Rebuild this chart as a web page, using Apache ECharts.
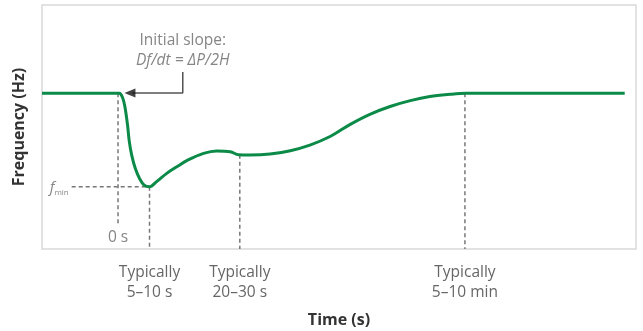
<!DOCTYPE html>
<html><head><meta charset="utf-8">
<script src="https://cdn.jsdelivr.net/npm/echarts@6/dist/echarts.min.js"></script>
<style>html,body{margin:0;padding:0;background:#fff}#c{width:643px;height:331px}</style>
</head><body><div id="c"></div>
<script>
// Frequency response curve (arbitrary time units on x, arbitrary frequency units on y)
const curveX = [0, 11.5, 13.0, 13.6, 14.0, 14.4, 14.7, 15.1, 15.7, 16.4, 17.2, 18.1, 19.3, 21.0, 22.7, 24.6, 27.2, 29.4, 31.7, 33.1, 35.0, 38.4, 41.8, 45.1, 48.5, 51.9, 55.2, 58.6, 62.0, 65.3, 68.7, 71.4, 73.0, 98.1];
const curveY = [63.8, 63.8, 63.8, 61.8, 57.7, 50.8, 44.0, 38.5, 33.1, 29.0, 26.2, 25.5, 27.6, 31.0, 33.7, 36.5, 39.2, 40.2, 39.9, 38.6, 38.5, 38.9, 40.3, 42.6, 46.1, 51.1, 55.2, 58.4, 60.8, 62.5, 63.4, 63.8, 63.8, 63.8];

// Event markers (x positions) and their tick labels
const eventX = [18.1, 33.3, 71.2];
const eventTop = [25.5, 38.6, 63.8];
const eventLabels = ['Typically\n5–10 s', 'Typically\n20–30 s', 'Typically\n5–10 min'];

// Disturbance start (0 s) and f_min
const startX = 12.8, startTop = 63.8, startBottom = 10.2;
const fminY = 25.5, fminFromX = 5.0;
const zeroLabel = { x: 12.8, y: 4.5, text: '0 s' };
const fminLabel = { x: 2.9, y: 25.3 };

// Initial slope annotation
const slopeText = { x: 23.7, y1: 85.5, y2: 77.3 };
const arrowPath = { x: 23.7, yTop: 72.5, yLine: 63.9, xTip: 14.0 };

const chart = echarts.init(document.getElementById('c'));
const font = '"Open Sans", Lato, sans-serif';
const dash = { color: '#777', type: [4, 3], width: 1.5 };

const curve = curveX.map((x, i) => [x, curveY[i]]);
const vlines = [];
vlines.push({ name: 'start', data: [[startX, startTop], [startX, startBottom]] });
eventX.forEach((x, i) => vlines.push({ name: 'ev' + i, data: [[x, eventTop[i]], [x, 0]] }));
vlines.push({ name: 'fmin', data: [[fminFromX, fminY], [eventX[0], fminY]] });

const series = vlines.map(v => ({
  type: 'line', data: v.data, symbol: 'none', silent: true,
  lineStyle: dash, z: 1
}));

series.push({
  type: 'line', data: curve, symbol: 'none', smooth: 0.35,
  lineStyle: { color: '#0b8a48', width: 3 }, z: 5
});

// arrow
series.push({
  type: 'line', data: [[arrowPath.x, arrowPath.yTop], [arrowPath.x, arrowPath.yLine], [arrowPath.xTip + 1.2, arrowPath.yLine]],
  symbol: 'none', lineStyle: { color: '#555', width: 1.5 }, z: 6
});
series.push({
  type: 'scatter', data: [[arrowPath.xTip + 0.8, arrowPath.yLine]], symbol: 'triangle', symbolRotate: 90,
  symbolSize: [9, 11], itemStyle: { color: '#111' }, z: 7, silent: true
});

// text labels
series.push({
  type: 'scatter', symbolSize: 0, silent: true, z: 8,
  data: [
    { value: [slopeText.x, slopeText.y1], label: { formatter: 'Initial slope:', fontStyle: 'normal' } },
    { value: [slopeText.x, slopeText.y2], label: { formatter: 'Df/dt = ΔP/2H', fontStyle: 'italic' } },
    { value: [zeroLabel.x, zeroLabel.y], label: { formatter: zeroLabel.text } },
    { value: [fminLabel.x, fminLabel.y], label: { formatter: '{f|f}{s|min}' } }
  ],
  label: {
    show: true, position: 'inside', color: '#666', fontSize: 15.5, fontFamily: font,
    rich: {
      f: { fontSize: 15, fontStyle: 'italic', color: '#666', fontFamily: font },
      s: { fontSize: 8, color: '#666', fontFamily: font, padding: [10, 0, 0, 0] }
    }
  }
});

chart.setOption({
  animation: false,
  grid: { left: 42, right: 7, top: 5, bottom: 82, show: true, borderColor: '#d9d9d9', borderWidth: 1.5, outerBoundsMode: 'none', containLabel: false },
  xAxis: {
    type: 'value', min: 0, max: 100,
    axisLine: { show: false }, axisTick: { show: false }, splitLine: { show: false },
    axisLabel: {
      customValues: eventX,
      formatter: v => { let k = 0, d = 1e9; eventX.forEach((x, i) => { if (Math.abs(x - v) < d) { d = Math.abs(x - v); k = i; } }); return eventLabels[k]; },
      color: '#666', fontSize: 15.5, lineHeight: 20, fontFamily: font, margin: 14
    },
    name: 'Time (s)', nameLocation: 'middle', nameGap: 63,
    nameTextStyle: { fontWeight: 'bold', fontSize: 16, color: '#333', fontFamily: font }
  },
  yAxis: {
    type: 'value', min: 0, max: 100,
    axisLine: { show: false }, axisTick: { show: false }, splitLine: { show: false }, axisLabel: { show: false },
    name: 'Frequency (Hz)', nameLocation: 'middle', nameGap: 15,
    nameTextStyle: { fontWeight: 'bold', fontSize: 16, color: '#333', fontFamily: font }
  },
  series
});
</script></body></html>
